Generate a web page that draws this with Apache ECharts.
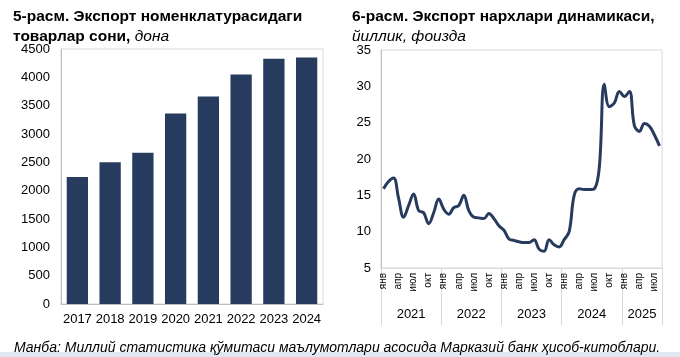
<!DOCTYPE html>
<html>
<head>
<meta charset="utf-8">
<script src="https://cdn.jsdelivr.net/npm/echarts@6/dist/echarts.min.js"></script>
<style>
html,body{margin:0;padding:0;background:#fff;}
#c{width:680px;height:357px;}
</style>
</head>
<body>
<div id="c"></div>
<script>
// Left chart: number of export nomenclature items
const barYears = ['2017','2018','2019','2020','2021','2022','2023','2024'];
const barValues = [2240, 2500, 2670, 3360, 3660, 4050, 4330, 4350];
const barTicks = [0, 500, 1000, 1500, 2000, 2500, 3000, 3500, 4000, 4500];

// Right chart: export prices, yoy %
const monthNames = ['янв','фев','мар','апр','май','июн','июл','авг','сен','окт','ноя','дек'];
const lineYears = ['2021','2022','2023','2024','2025'];
const lineValues = [
  15.9, 16.9, 17.4, 14.6, 12.0, 13.6, 15.2, 12.9, 12.6, 11.1, 12.6, 14.5,
  13.1, 12.4, 13.3, 13.6, 15.0, 12.9, 12.0, 11.9, 11.8, 12.5, 11.8, 10.8,
  10.2, 9.0, 8.8, 8.6, 8.5, 8.5, 8.9, 7.6, 7.3, 8.9, 8.2, 7.9,
  8.9, 10.0, 15.0, 15.9, 15.8, 15.8, 15.9, 18.8, 30.3, 27.2, 27.7, 29.3,
  28.6, 29.3, 24.6, 23.8, 24.9, 24.5, 23.3, 21.8
];
const yearBounds = [0, 12, 24, 36, 48, 56];
const yearLabelPos = [6, 18, 30, 42, 52];

const monthCats = lineValues.map((v, i) => lineYears[Math.floor(i / 12)] + '-' + monthNames[i % 12]);

const navy = '#263b5e';
const font = 'Liberation Sans, Arial, sans-serif';

const titleRich = {
  b: {fontFamily: font, fontSize: 15.5, fontWeight: 'bold', fontStyle: 'normal', color: '#000', lineHeight: 20},
  i: {fontFamily: font, fontSize: 15.5, fontWeight: 'normal', fontStyle: 'italic', color: '#000', lineHeight: 20}
};

const chart = echarts.init(document.getElementById('c'), null, {renderer: 'canvas'});
chart.setOption({
  animation: false,
  textStyle: {fontFamily: font},
  title: [
    {
      left: 8, top: 2,
      text: '{b|5-расм. Экспорт номенклатурасидаги}\n{b|товарлар сони, }{i|дона}',
      textStyle: {fontWeight: 'normal', rich: titleRich}
    },
    {
      left: 347, top: 2,
      text: '{b|6-расм. Экспорт нархлари динамикаси,}\n{i|йиллик, фоизда}',
      textStyle: {fontWeight: 'normal', rich: titleRich}
    },
    {
      left: 9, top: 336,
      text: 'Манба: Миллий статистика қўмитаси маълумотлари асосида Марказий банк ҳисоб-китоблари.',
      textStyle: {fontFamily: font, fontSize: 14, fontStyle: 'italic', fontWeight: 'normal', color: '#000'}
    }
  ],
  graphic: [
    {type: 'rect', shape: {x: 0, y: 352, width: 680, height: 5}, style: {fill: '#dfe8f3'}, silent: true}
  ],
  grid: [
    {left: 61, top: 49, width: 262, height: 255, show: true, borderColor: '#d9d9d9', borderWidth: 1, backgroundColor: 'transparent'},
    {left: 381, top: 50, width: 281, height: 218, show: true, borderColor: '#d9d9d9', borderWidth: 1, backgroundColor: 'transparent'}
  ],
  xAxis: [
    {
      gridIndex: 0, type: 'category', data: barYears,
      axisLine: {lineStyle: {color: '#bfbfbf'}},
      axisTick: {show: false},
      axisLabel: {color: '#000', fontSize: 13, margin: 9, fontFamily: font, interval: 0, hideOverlap: false}
    },
    {
      gridIndex: 1, type: 'category', data: monthCats, boundaryGap: true,
      axisLine: {lineStyle: {color: '#d9d9d9'}},
      axisTick: {show: false},
      axisLabel: {
        color: '#000', fontSize: 10, rotate: 90, margin: 5, fontFamily: font,
        interval: function (idx) { return idx % 3 === 0; },
        formatter: function (v, idx) { return monthNames[idx % 12]; }
      }
    },
    {
      gridIndex: 1, type: 'value', min: 0, max: 56, position: 'bottom',
      axisLine: {show: false},
      splitLine: {show: false},
      axisTick: {show: true, customValues: yearBounds, length: 57, lineStyle: {color: '#d9d9d9'}},
      axisLabel: {
        color: '#000', fontSize: 13, margin: 40, fontFamily: font,
        customValues: yearLabelPos,
        formatter: function (v) { return lineYears[yearLabelPos.indexOf(v)]; }
      }
    }
  ],
  yAxis: [
    {
      gridIndex: 0, type: 'value', min: barTicks[0], max: barTicks[barTicks.length - 1], interval: 500,
      axisLine: {show: true, lineStyle: {color: '#bfbfbf'}},
      axisTick: {show: false},
      splitLine: {show: false},
      axisLabel: {color: '#000', fontSize: 13, margin: 11, fontFamily: font, formatter: function (v) { return String(v); }}
    },
    {
      gridIndex: 1, type: 'value', min: 5, max: 35, interval: 5,
      axisLine: {show: true, lineStyle: {color: '#bfbfbf'}},
      axisTick: {show: false},
      splitLine: {show: false},
      axisLabel: {color: '#000', fontSize: 13, margin: 10, fontFamily: font, formatter: function (v) { return String(v); }}
    }
  ],
  series: [
    {
      type: 'bar', xAxisIndex: 0, yAxisIndex: 0, data: barValues,
      barCategoryGap: '35%',
      itemStyle: {color: navy}
    },
    {
      type: 'line', xAxisIndex: 1, yAxisIndex: 1, data: lineValues,
      smooth: 0.4, showSymbol: false, symbol: 'none',
      lineStyle: {color: navy, width: 3}
    }
  ]
});
</script>
</body>
</html>
